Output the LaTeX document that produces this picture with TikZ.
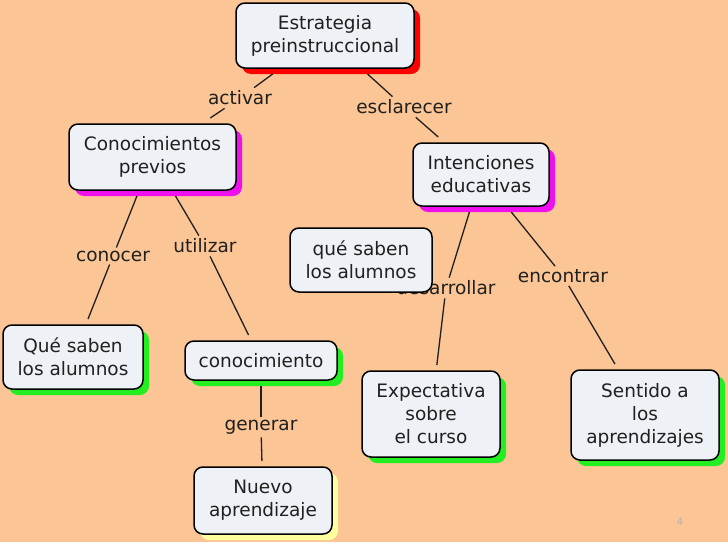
\documentclass[tikz,border=0pt]{standalone}
\usepackage{fontspec}
\setmainfont{DejaVu Sans}
\usetikzlibrary{shadows}
\definecolor{bg}{HTML}{FBC595}
\definecolor{boxfill}{HTML}{EEF2F6}
\definecolor{txt}{HTML}{202020}
\definecolor{shred}{HTML}{FF0000}
\definecolor{shmag}{HTML}{EE11EE}
\definecolor{shgreen}{HTML}{22EE22}
\definecolor{shyellow}{HTML}{FFFFA0}
\begin{document}
\begin{tikzpicture}[x=1pt,y=-1pt,
  concept/.style={draw=black, line width=1.5pt, fill=boxfill, rounded corners=9pt,
    align=center, text=txt, font=\fontsize{18.5}{23}\selectfont, inner sep=0pt, outer sep=6pt},
  shadowed/.style={general shadow={fill=#1, shadow xshift=6pt, shadow yshift=-6pt}},
  lbl/.style={text=txt, font=\fontsize{18.5}{23}\selectfont, inner sep=3pt},
  link/.style={line width=1.3pt, draw=txt}]
\fill[bg] (0,0) rectangle (728,546);
\fill[white] (0,542) rectangle (728,546);

% concepts
\node[concept, shadowed=shred, minimum width=178pt, minimum height=65pt] (E) at (325,35.5) {Estrategia\\preinstruccional};
\node[concept, shadowed=shmag, minimum width=167pt, minimum height=66pt] (C) at (152.5,157) {Conocimientos\\previos};
\node[concept, shadowed=shmag, minimum width=136pt, minimum height=63pt] (I) at (481,174.5) {Intenciones\\educativas};
\node[concept, shadowed=shgreen, minimum width=140pt, minimum height=64pt] (Q1) at (73,357) {Qué saben\\los alumnos};
\node[concept, shadowed=shgreen, minimum width=152pt, minimum height=39pt] (K) at (261,360.5) {conocimiento};
\node[concept, shadowed=shgreen, minimum width=138pt, minimum height=86pt] (X) at (431,414) {Expectativa\\sobre\\el curso};
\node[concept, shadowed=shgreen, minimum width=148pt, minimum height=90pt] (S) at (645,415) {Sentido a\\los\\aprendizajes};
\node[concept, shadowed=shyellow, minimum width=138pt, minimum height=67pt] (N) at (263,500.5) {Nuevo\\aprendizaje};

% linking phrases
\node[lbl] (act) at (240,98) {activar};
\node[lbl] (escl) at (404,107) {esclarecer};
\node[lbl] (cono) at (113,256) {conocer};
\node[lbl] (util) at (205,246) {utilizar};
\node[lbl] (desa) at (446,288) {desarrollar};
\node[lbl] (enco) at (563,276) {encontrar};
\node[lbl] (gene) at (261,427) {generar};

% connectors
\draw[link] (E) -- (act);   \draw[link] (act) -- (C);
\draw[link] (E) -- (escl);  \draw[link] (escl) -- (I);
\draw[link] (C) -- (cono);  \draw[link] (cono) -- (Q1);
\draw[link] (C) -- (util);  \draw[link] (util) -- (K);
\draw[link] (K) -- (gene);  \draw[link] (gene) -- (N);
\draw[link] (I) -- (desa);  \draw[link] (desa) -- (X);
\draw[link] (I) -- (enco);  \draw[link] (enco) -- (S);

% box drawn over "desarrollar"
\node[concept, minimum width=142pt, minimum height=64pt] (Q2) at (361,260) {qué saben\\los alumnos};

\node[text=gray!60, font=\fontsize{10}{12}\selectfont] (pg) at (680,522) {4};
\end{tikzpicture}
\end{document}
